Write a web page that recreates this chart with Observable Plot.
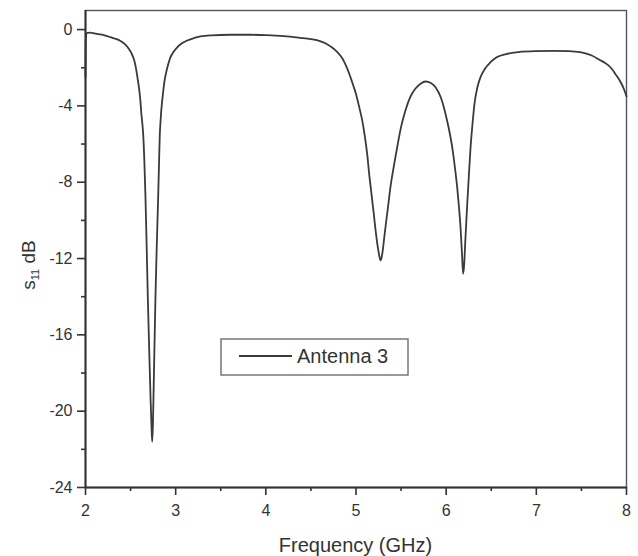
<!DOCTYPE html>
<html>
<head>
<meta charset="utf-8">
<script src="https://cdn.jsdelivr.net/npm/d3@7"></script>
<script src="https://cdn.jsdelivr.net/npm/@observablehq/plot@0.6"></script>
<style>
  html, body { margin: 0; padding: 0; background: #fff; }
  #chart svg { display: block; }
</style>
</head>
<body>
<div id="chart"></div>
<script>
// Frequency (GHz) and S11 (dB)
const freq = [
  2.000, 2.003, 2.010, 2.050, 2.100, 2.144, 2.200, 2.240, 2.277, 2.330, 2.388, 2.440,
  2.480, 2.510, 2.536, 2.555, 2.573, 2.587, 2.599, 2.610, 2.618, 2.630, 2.640, 2.652,
  2.665, 2.678, 2.691, 2.706, 2.721, 2.732, 2.740, 2.747, 2.754, 2.765, 2.776, 2.791,
  2.806, 2.816, 2.824, 2.831, 2.839, 2.849, 2.861, 2.873, 2.887, 2.910, 2.935, 2.975,
  3.017, 3.070, 3.128, 3.200, 3.275, 3.400, 3.600, 3.830, 4.000, 4.200, 4.380, 4.500,
  4.600, 4.660, 4.717, 4.765, 4.806, 4.840, 4.865, 4.895, 4.920, 4.950, 4.976, 5.000,
  5.020, 5.045, 5.069, 5.090, 5.110, 5.127, 5.142, 5.170, 5.197, 5.218, 5.240, 5.258,
  5.272, 5.286, 5.300, 5.312, 5.327, 5.355, 5.382, 5.420, 5.457, 5.500, 5.549, 5.600,
  5.660, 5.720, 5.771, 5.830, 5.882, 5.940, 5.993, 6.030, 6.067, 6.095, 6.122, 6.142,
  6.159, 6.175, 6.188, 6.200, 6.212, 6.233, 6.250, 6.270, 6.292, 6.314, 6.345, 6.381,
  6.430, 6.492, 6.560, 6.677, 6.800, 6.987, 7.200, 7.357, 7.500, 7.615, 7.700, 7.760,
  7.800, 7.840, 7.874, 7.910, 7.940, 7.970, 8.000
];
const s11 = [
  -2.50, -0.60, -0.18, -0.16, -0.20, -0.24, -0.29, -0.34, -0.40, -0.48, -0.60, -0.78,
  -1.01, -1.25, -1.54, -1.90, -2.41, -2.85, -3.28, -3.80, -4.33, -4.90, -5.50, -6.80,
  -8.77, -11.30, -14.00, -16.70, -19.26, -20.80, -21.60, -20.80, -19.26, -16.60, -14.00, -11.20,
  -8.77, -6.90, -5.50, -4.90, -4.33, -3.80, -3.28, -2.80, -2.41, -1.95, -1.54, -1.18,
  -0.93, -0.72, -0.57, -0.45, -0.36, -0.30, -0.27, -0.27, -0.29, -0.34, -0.43, -0.50,
  -0.60, -0.72, -0.88, -1.05, -1.25, -1.45, -1.65, -1.95, -2.25, -2.65, -3.02, -3.38,
  -3.75, -4.25, -4.76, -5.35, -6.00, -6.65, -7.38, -8.55, -9.65, -10.55, -11.35, -11.85,
  -12.10, -11.90, -11.45, -10.95, -10.35, -9.30, -8.26, -7.15, -6.16, -5.10, -4.23, -3.55,
  -3.09, -2.82, -2.72, -2.80, -3.02, -3.55, -4.42, -5.20, -6.16, -7.15, -8.26, -9.30,
  -10.35, -11.70, -12.80, -12.30, -11.10, -9.20, -7.80, -6.20, -4.95, -3.89, -3.05, -2.49,
  -2.05, -1.71, -1.45, -1.27, -1.18, -1.13, -1.12, -1.13, -1.20, -1.36, -1.58, -1.74,
  -1.88, -2.08, -2.31, -2.55, -2.80, -3.10, -3.50
];
const xMajor = [2, 3, 4, 5, 6, 7, 8];
const xMinor = [2.5, 3.5, 4.5, 5.5, 6.5, 7.5];
const yMajor = [0, -4, -8, -12, -16, -20, -24];
const yMinor = [-2, -6, -10, -14, -18, -22];
const seriesName = "Antenna 3";
const xLabel = "Frequency (GHz)";

const data = freq.map((f, i) => ({f, s: s11[i]}));

const W = 638, H = 556;
const mL = 85, mR = 12, mT = 10, mB = 69;
const axisColor = "#333";
const lineColor = "#3a3a3a";
const font = "'Liberation Sans', Arial, sans-serif";

const plot = Plot.plot({
  width: W,
  height: H,
  marginLeft: mL,
  marginRight: mR,
  marginTop: mT,
  marginBottom: mB,
  style: {fontFamily: font, fontSize: "16px", color: axisColor, background: "#fff"},
  x: {domain: [2, 8]},
  y: {domain: [-24, 1]},
  marks: [
    Plot.frame({stroke: "#555", strokeWidth: 1.4}),
    Plot.line(data, {x: "f", y: "s", curve: "monotone-x", stroke: lineColor, strokeWidth: 1.8}),
    Plot.ruleX([2], {stroke: axisColor, strokeWidth: 2}),
    Plot.ruleY([-24], {stroke: axisColor, strokeWidth: 2}),
    Plot.axisX({ticks: xMajor, tickSize: 8, tickPadding: 9, tickFormat: d => String(d), label: null, strokeWidth: 1.6}),
    Plot.axisX({ticks: xMinor, tickSize: 4, tickFormat: null, text: null, label: null, strokeWidth: 1.6}),
    Plot.axisY({ticks: yMajor, tickSize: 8, tickPadding: 5, tickFormat: d => String(d), label: null, strokeWidth: 1.6}),
    Plot.axisY({ticks: yMinor, tickSize: 4, tickFormat: null, text: null, label: null, strokeWidth: 1.6})
  ]
});

document.getElementById("chart").appendChild(plot);

const svg = d3.select(plot);
svg.selectAll("g[aria-label$='tick label'] text").attr("font-size", 16);
svg.selectAll("g[aria-label$='tick label']").attr("font-size", 16);

// x-axis title
svg.append("text")
  .attr("x", (mL + W - mR) / 2)
  .attr("y", 552)
  .attr("text-anchor", "middle")
  .attr("font-family", font)
  .attr("font-size", 20)
  .attr("fill", axisColor)
  .text(xLabel);

// y-axis title with subscript
const yt = svg.append("text")
  .attr("transform", "translate(35,265) rotate(-90)")
  .attr("text-anchor", "middle")
  .attr("font-family", font)
  .attr("font-size", 19)
  .attr("fill", axisColor);
yt.append("tspan").text("s");
yt.append("tspan").attr("font-size", 11).attr("dy", 4).text("11");
yt.append("tspan").attr("dy", -4).text(" dB");

// legend box
const lg = svg.append("g");
lg.append("rect")
  .attr("x", 221).attr("y", 339).attr("width", 187).attr("height", 36)
  .attr("fill", "#fff").attr("stroke", "#777").attr("stroke-width", 1.5);
lg.append("line")
  .attr("x1", 239).attr("x2", 292).attr("y1", 356).attr("y2", 356)
  .attr("stroke", lineColor).attr("stroke-width", 2);
lg.append("text")
  .attr("x", 297).attr("y", 363)
  .attr("text-anchor", "start")
  .attr("font-family", font).attr("font-size", 20)
  .attr("fill", axisColor)
  .text(seriesName);
</script>
</body>
</html>
